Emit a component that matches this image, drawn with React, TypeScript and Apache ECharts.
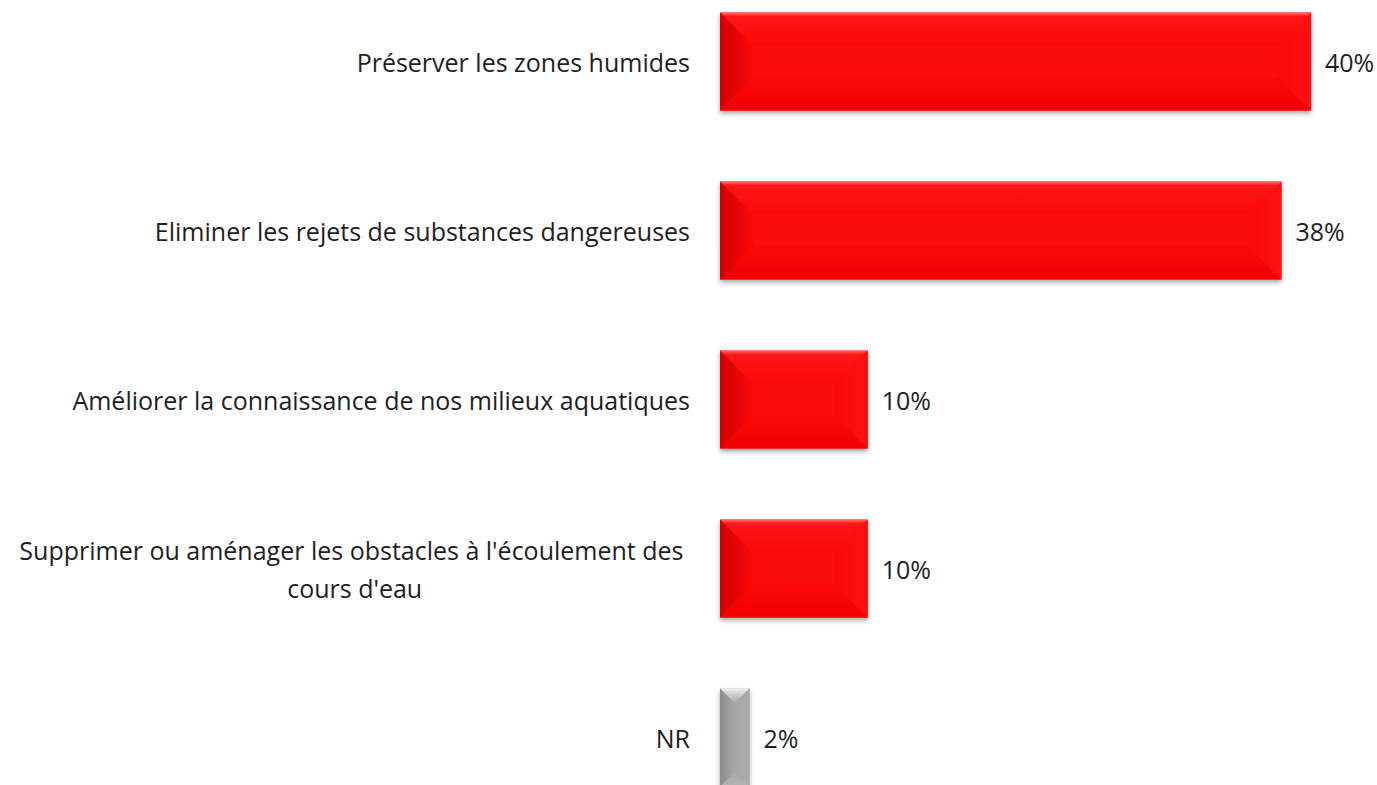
import React, { useEffect, useRef } from "react";
import * as echarts from "echarts";

const categories = [
  "Préserver les zones humides",
  "Eliminer les rejets de substances dangereuses",
  "Améliorer la connaissance de nos milieux aquatiques",
  "Supprimer ou aménager les obstacles à l'écoulement des\ncours d'eau",
  "NR",
];
const values = [40, 38, 10, 10, 2];
const kinds = ["red", "red", "red", "red", "gray"];

const PALETTE: Record<string, any> = {
  red: {
    edge: "#ff7070",
    topBevel: "#fe1616",
    main: "#fb0909",
    bottom: "#f20000",
    left: "#d00000",
    right: "#ff1010",
    depth: 33,
  },
  gray: {
    edge: "#f6f6f6",
    topBevel: "#e4e4e4",
    main: "#a6a6a6",
    bottom: "#b4b4b4",
    left: "#8c8c8c",
    right: "#ababab",
    depth: 33,
  },
};

const FONT = "Open Sans";
const FS = 25;

export default function App() {
  const ref = useRef<HTMLDivElement>(null);
  useEffect(() => {
    const chart = echarts.init(ref.current!, null, { renderer: "svg" });
    const data = values.map((v, i) => [v, i]);
    chart.setOption({
      animation: false,
      grid: { left: 720, right: 66, top: 0, bottom: 0, containLabel: false },
      xAxis: { type: "value", min: 0, max: 40, show: false },
      yAxis: {
        type: "category",
        data: categories,
        inverse: true,
        axisLine: { show: false },
        axisTick: { show: false },
        splitLine: { show: false },
        axisLabel: {
          margin: 30,
          color: "#1e1e1e",
          fontFamily: FONT,
          fontSize: FS,
          lineHeight: 38,
          formatter: (val: string) => {
            const parts = val.split("\n");
            if (parts.length === 1) return val;
            return "{a|" + parts[0] + " }\n{c|" + parts[1] + "}";
          },
          rich: {
            a: { fontFamily: FONT, fontSize: FS, color: "#1e1e1e", lineHeight: 38 },
            c: { fontFamily: FONT, fontSize: FS, color: "#1e1e1e", lineHeight: 38, align: "center" },
          },
        },
      },
      series: [
        {
          type: "custom",
          encode: { x: 0, y: 1 },
          data,
          silent: true,
          renderItem: (params: any, api: any) => {
            const v = api.value(0);
            const idx = api.value(1);
            const p = PALETTE[kinds[params.dataIndex]];
            const s = api.coord([0, idx]);
            const e = api.coord([v, idx]);
            const h = api.size([0, 1])[1] * 0.58;
            const x0 = s[0];
            const x1 = e[0];
            const y0 = s[1] - h / 2;
            const y1 = y0 + h;
            const w = x1 - x0;
            const d = Math.min(p.depth, w / 2, h / 2);
            return {
              type: "group",
              children: [
                {
                  type: "rect",
                  shape: { x: x0, y: y0, width: w, height: h },
                  style: {
                    fill: p.main,
                    shadowColor: "rgba(0,0,0,0.35)",
                    shadowBlur: 5,
                    shadowOffsetY: 3,
                  },
                },
                {
                  type: "polygon",
                  shape: { points: [[x0, y0], [x1, y0], [x1 - d, y0 + d], [x0 + d, y0 + d]] },
                  style: {
                    fill: new echarts.graphic.LinearGradient(0, 0, 0, 1, [
                      { offset: 0, color: p.edge },
                      { offset: 0.12, color: p.topBevel },
                      { offset: 1, color: p.main },
                    ]),
                  },
                },
                {
                  type: "polygon",
                  shape: { points: [[x0, y1], [x1, y1], [x1 - d, y1 - d], [x0 + d, y1 - d]] },
                  style: {
                    fill: new echarts.graphic.LinearGradient(0, 0, 0, 1, [
                      { offset: 0, color: p.main },
                      { offset: 1, color: p.bottom },
                    ]),
                  },
                },
                {
                  type: "polygon",
                  shape: { points: [[x0, y0], [x0 + d, y0 + d], [x0 + d, y1 - d], [x0, y1]] },
                  style: {
                    fill: new echarts.graphic.LinearGradient(0, 0, 1, 0, [
                      { offset: 0, color: p.left },
                      { offset: 1, color: p.main },
                    ]),
                  },
                },
                {
                  type: "polygon",
                  shape: { points: [[x1, y0], [x1 - d, y0 + d], [x1 - d, y1 - d], [x1, y1]] },
                  style: {
                    fill: new echarts.graphic.LinearGradient(0, 0, 1, 0, [
                      { offset: 0, color: p.main },
                      { offset: 1, color: p.right },
                    ]),
                  },
                },
              ],
            };
          },
        },
        {
          type: "bar",
          data: values,
          barWidth: "58%",
          barGap: "-100%",
          silent: true,
          itemStyle: { color: "rgba(0,0,0,0)" },
          label: {
            show: true,
            position: "right",
            distance: 14,
            fontFamily: FONT,
            fontSize: FS,
            color: "#1e1e1e",
            formatter: (p: any) => p.value + "%",
          },
        },
      ],
    });
    return () => chart.dispose();
  }, []);
  return (
    <div
      style={{ position: "absolute", left: 0, top: 0, width: 1377, height: 785, overflow: "hidden", background: "#fff" }}
    >
      <div ref={ref} style={{ position: "absolute", left: 0, top: -23.5, width: 1377, height: 845 }} />
    </div>
  );
}
